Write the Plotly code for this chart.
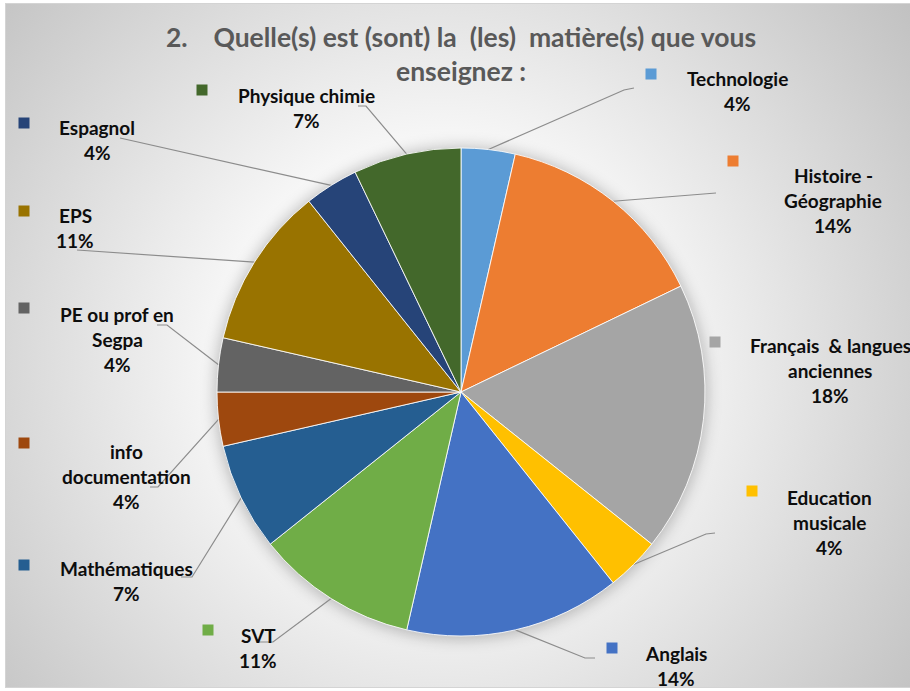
import math
import base64
import plotly.graph_objects as go

# ---------------- data ----------------
subjects = ["Technologie", "Histoire - Géographie", "Français  & langues anciennes",
            "Education musicale", "Anglais", "SVT", "Mathématiques",
            "info documentation", "PE ou prof en Segpa", "EPS", "Espagnol",
            "Physique chimie"]
responses = [1, 4, 5, 1, 4, 3, 2, 1, 1, 3, 1, 2]
label_lines = [["Technologie"], ["Histoire -", "Géographie"],
               ["Français\u00a0\u00a0& langues", "anciennes"],
               ["Education", "musicale"], ["Anglais"], ["SVT"], ["Mathématiques"],
               ["info", "documentation"], ["PE ou prof en", "Segpa"], ["EPS"],
               ["Espagnol"], ["Physique chimie"]]
title_lines = ["2.\u00a0\u00a0\u00a0\u00a0Quelle(s) est (sont) la\u00a0\u00a0(les)\u00a0\u00a0matière(s) que vous",
               "enseignez :"]

# ---------------- styles / layout ----------------
colors = ["#5B9BD5", "#ED7D31", "#A5A5A5", "#FFC000", "#4472C4", "#70AD47",
          "#255E91", "#9E480E", "#636363", "#997300", "#264478", "#43682B"]
W, H = 910, 691
CX, CY, R = 461, 392, 244
FONT = "Lato"
LSIZE = 19
LSTEP = 25

# label placement (pixels): marker, text centre x, first line centre y, callout elbows
placement = [
    dict(m=(651, 74), tx=737, ty=78, elbow=[(624, 90), (634, 88)]),
    dict(m=(733, 161), tx=833, ty=175, elbow=[(716, 193)]),
    dict(m=(715, 342), tx=830, ty=345, elbow=None),
    dict(m=(752, 491), tx=829, ty=497, elbow=[(706, 534), (715, 533)]),
    dict(m=(612, 648), tx=676, ty=653, elbow=[(585, 658), (595, 658)]),
    dict(m=(208, 630), tx=258, ty=635, elbow=[(273, 642), (256, 642)]),
    dict(m=(24, 565), tx=126, ty=568, elbow=[(192, 577), (181, 577)]),
    dict(m=(24, 443), tx=126, ty=451, elbow=[(158, 487), (150, 487)]),
    dict(m=(24, 308), tx=117, ty=314, elbow=[(167, 325), (157, 325)]),
    dict(m=(24, 211), tx=75, ty=215, elbow=[(77, 250)]),
    dict(m=(24, 123), tx=97, ty=127, elbow=[(120, 138)]),
    dict(m=(202, 90), tx=306, ty=95, elbow=[(366, 106), (358, 106)]),
]

total = sum(responses)
pcts = [round(100 * v / total) for v in responses]

# ---------------- background (radial gradient + pie shadow) ----------------
svg = f"""<svg xmlns='http://www.w3.org/2000/svg' width='{W}' height='{H}' viewBox='0 0 {W} {H}'>
<defs>
<radialGradient id='g' gradientUnits='userSpaceOnUse' cx='440' cy='360' r='620'>
<stop offset='0' stop-color='#ffffff'/>
<stop offset='0.35' stop-color='#f7f7f7'/>
<stop offset='1' stop-color='#bdbdbd'/>
</radialGradient>
<filter id='b' x='-20%' y='-20%' width='140%' height='140%'><feGaussianBlur stdDeviation='7'/></filter>
</defs>
<rect x='0' y='0' width='{W}' height='{H}' fill='#ffffff'/>
<rect x='5.5' y='3.5' width='{W}' height='{H-7}' fill='url(#g)' stroke='#d4d4d4' stroke-width='1'/>
<circle cx='{CX}' cy='{CY+1}' r='{R+3}' fill='#000000' fill-opacity='0.22' filter='url(#b)'/>
</svg>"""
bg_uri = "data:image/svg+xml;base64," + base64.b64encode(svg.encode("utf-8")).decode("ascii")

fig = go.Figure()

fig.add_trace(go.Pie(
    labels=subjects, values=responses, sort=False, direction="clockwise", rotation=0,
    marker=dict(colors=colors, line=dict(color="rgba(255,255,255,0.85)", width=1)),
    textinfo="none", hoverinfo="label+percent", showlegend=False,
    domain=dict(x=[(CX - R) / W, (CX + R) / W], y=[1 - (CY + R) / H, 1 - (CY - R) / H]),
))

# callout lines
cum = 0
for i, v in enumerate(responses):
    a = (cum + v / 2) / total * 2 * math.pi
    cum += v
    p = placement[i]
    if not p["elbow"]:
        continue
    ex, ey = CX + R * math.sin(a), CY - R * math.cos(a)
    xs = [ex] + [q[0] for q in p["elbow"]]
    ys = [ey] + [q[1] for q in p["elbow"]]
    fig.add_trace(go.Scatter(x=xs, y=ys, mode="lines", line=dict(color="#8c8c8c", width=1.2),
                             hoverinfo="skip", showlegend=False))

# legend-key squares
fig.add_trace(go.Scatter(x=[p["m"][0] for p in placement], y=[p["m"][1] for p in placement],
                         mode="markers", marker=dict(symbol="square", size=11, color=colors,
                                                     line=dict(width=0)),
                         hoverinfo="skip", showlegend=False))

annotations = []
for i, p in enumerate(placement):
    lines = label_lines[i] + [f"{pcts[i]}%"]
    for k, t in enumerate(lines):
        annotations.append(dict(x=p["tx"], y=p["ty"] + k * LSTEP, xref="x", yref="y", text=t,
                                showarrow=False, xanchor="center", yanchor="middle",
                                font=dict(family=FONT, size=LSIZE, color="#0d0d0d", weight="bold")))

for k, (t, ty) in enumerate(zip(title_lines, [37, 71])):
    annotations.append(dict(x=461, y=ty, xref="x", yref="y", text=t, showarrow=False,
                            xanchor="center", yanchor="middle",
                            font=dict(family=FONT, size=26.5, color="#595959", weight="bold")))

fig.update_layout(
    width=W, height=H, margin=dict(l=0, r=0, t=0, b=0),
    paper_bgcolor="white", plot_bgcolor="rgba(0,0,0,0)",
    xaxis=dict(range=[0, W], visible=False, fixedrange=True, domain=[0, 1]),
    yaxis=dict(range=[H, 0], visible=False, fixedrange=True, domain=[0, 1]),
    annotations=annotations,
    images=[dict(source=bg_uri, xref="paper", yref="paper", x=0, y=1, sizex=1, sizey=1,
                 sizing="stretch", xanchor="left", yanchor="top", layer="below")],
    showlegend=False,
)

fig.write_html("out.html", config={"displayModeBar": False},
               post_script="document.body.style.margin='0px';")
